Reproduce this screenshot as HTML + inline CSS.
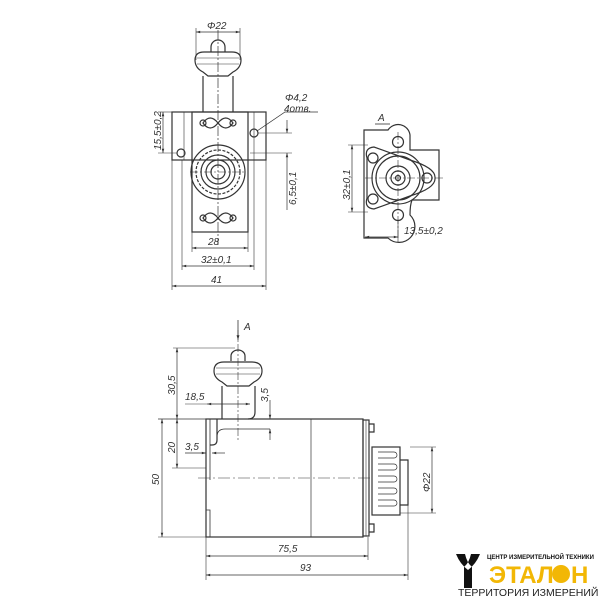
<!DOCTYPE html>
<html><head><meta charset="utf-8"><style>
html,body{margin:0;padding:0;background:#fff}
svg{display:block}
text{font-family:"Liberation Sans",sans-serif;font-style:italic;font-size:10px;fill:#333}
</style></head><body>
<svg width="600" height="600" viewBox="0 0 600 600" xmlns="http://www.w3.org/2000/svg">
<defs>
<marker id="a" viewBox="0 0 10 10" refX="10" refY="5" markerWidth="8" markerHeight="6" orient="auto-start-reverse"><path d="M0,2 L10,5 L0,8z" fill="#333"/></marker>
</defs>
<g fill="none" stroke="#333" stroke-width="1.2">
<!-- TOP VIEW -->
<line x1="218" y1="30" x2="218" y2="245" stroke-dasharray="10,2,2,2" stroke-width="0.7"/>
<line x1="196" y1="28" x2="196" y2="60" stroke-width="0.6"/><line x1="240" y1="28" x2="240" y2="60" stroke-width="0.6"/>
<line x1="196" y1="32" x2="240" y2="32" marker-start="url(#a)" marker-end="url(#a)" stroke-width="0.7"/>
<path d="M211,52 v-5 a7,7 0 0 1 14,0 v5"/>
<path d="M204,52 h28 q9,0 9,8 q0,8 -8,12 l-5,4 h-20 l-5,-4 q-8,-4 -8,-12 q0,-8 9,-8z"/>
<line x1="197" y1="58" x2="239" y2="58" stroke-width="0.6"/><line x1="197" y1="64" x2="239" y2="64" stroke-width="0.6"/>
<path d="M203,76 v36 M233,76 v36"/>
<rect x="172" y="112" width="94" height="48"/>
<rect x="192" y="112" width="56" height="120"/>
<line x1="184" y1="112" x2="184" y2="160" stroke-width="0.6"/><line x1="254" y1="112" x2="254" y2="160" stroke-width="0.6"/>
<circle cx="181" cy="153" r="4"/><circle cx="254" cy="133" r="4"/>
<circle cx="218" cy="172" r="27"/><circle cx="218" cy="172" r="22" stroke-dasharray="3,1.5"/>
<circle cx="218" cy="172" r="17"/><circle cx="218" cy="172" r="12"/><circle cx="218" cy="172" r="7"/>
<line x1="190" y1="172" x2="246" y2="172" stroke-dasharray="8,2,2,2" stroke-width="0.6"/>
<path d="M203,123 q7,-10 15,0 q8,10 15,0 q-7,-10 -15,0 q-8,10 -15,0z"/>
<circle cx="203" cy="123" r="3"/><circle cx="233" cy="123" r="3"/>
<path d="M203,218 q7,-10 15,0 q8,10 15,0 q-7,-10 -15,0 q-8,10 -15,0z"/>
<circle cx="203" cy="218" r="3"/><circle cx="233" cy="218" r="3"/>
<line x1="192" y1="232" x2="192" y2="252" stroke-width="0.6"/><line x1="248" y1="232" x2="248" y2="252" stroke-width="0.6"/>
<line x1="192" y1="248" x2="248" y2="248" marker-start="url(#a)" marker-end="url(#a)" stroke-width="0.7"/>
<line x1="182" y1="160" x2="182" y2="270" stroke-width="0.6"/><line x1="254" y1="160" x2="254" y2="270" stroke-width="0.6"/>
<line x1="182" y1="266" x2="254" y2="266" marker-start="url(#a)" marker-end="url(#a)" stroke-width="0.7"/>
<line x1="172" y1="160" x2="172" y2="290" stroke-width="0.6"/><line x1="266" y1="160" x2="266" y2="290" stroke-width="0.6"/>
<line x1="172" y1="286" x2="266" y2="286" marker-start="url(#a)" marker-end="url(#a)" stroke-width="0.7"/>
<line x1="158" y1="112" x2="172" y2="112" stroke-width="0.6"/><line x1="158" y1="153" x2="177" y2="153" stroke-width="0.6"/>
<line x1="163" y1="112" x2="163" y2="153" marker-start="url(#a)" marker-end="url(#a)" stroke-width="0.7"/>
<line x1="258" y1="133" x2="292" y2="133" stroke-width="0.6"/><line x1="250" y1="153" x2="292" y2="153" stroke-width="0.6"/>
<line x1="287" y1="120" x2="287" y2="133" marker-end="url(#a)" stroke-width="0.7"/>
<line x1="287" y1="210" x2="287" y2="153" marker-end="url(#a)" stroke-width="0.7"/>
<path d="M257,131 L285,112 H318" stroke-width="0.7"/>
<!-- RIGHT VIEW -->
<line x1="375" y1="124" x2="390" y2="124" stroke-width="0.8"/>
<path d="M364,130 H388 A12,12 0 0 1 410,135 V150 H439 V200 H412 Q410,205 410,215 A12,12 0 0 1 388,238 H364 Z"/>
<path d="M367,158 Q364,148 374,147 L410,160 Q436,168 435,178 Q436,188 410,196 L374,209 Q364,208 367,198 Z"/>
<circle cx="398" cy="142" r="5.5"/><circle cx="398" cy="215" r="5.5"/>
<circle cx="373" cy="158" r="5"/><circle cx="373" cy="199" r="5"/><circle cx="427" cy="178" r="5"/>
<circle cx="398" cy="178" r="26"/><circle cx="398" cy="178" r="22"/><circle cx="398" cy="178" r="12"/><circle cx="398" cy="178" r="7"/><circle cx="398" cy="178" r="2.5"/>
<line x1="365" y1="178" x2="445" y2="178" stroke-dasharray="8,2,2,2" stroke-width="0.6"/>
<line x1="398" y1="132" x2="398" y2="240" stroke-dasharray="8,2,2,2" stroke-width="0.6"/>
<line x1="348" y1="145" x2="368" y2="145" stroke-width="0.6"/><line x1="348" y1="212" x2="368" y2="212" stroke-width="0.6"/>
<line x1="352" y1="145" x2="352" y2="212" marker-start="url(#a)" marker-end="url(#a)" stroke-width="0.7"/>
<line x1="398" y1="220" x2="398" y2="242" stroke-width="0.6"/>
<line x1="365" y1="237" x2="398" y2="237" marker-start="url(#a)" marker-end="url(#a)" stroke-width="0.7"/>
<!-- FRONT VIEW -->
<line x1="238" y1="320" x2="238" y2="340" marker-end="url(#a)" stroke-width="0.8"/>
<path d="M231,361 v-5 a7,6 0 0 1 14,0 v5"/>
<path d="M224,362 h28 q10,0 10,9 q0,7 -8,11 l-5,4 h-22 l-5,-4 q-8,-4 -8,-11 q0,-9 10,-9z"/>
<line x1="216" y1="368" x2="260" y2="368" stroke-width="0.6"/><line x1="216" y1="374" x2="260" y2="374" stroke-width="0.6"/>
<path d="M222,386 V419 M255,386 V412 q0,7 -7,7"/>
<line x1="238" y1="330" x2="238" y2="440" stroke-dasharray="8,2,2,2" stroke-width="0.6"/>
<rect x="206" y="419" width="157" height="118"/>
<line x1="311" y1="419" x2="311" y2="537" stroke-width="0.7"/>
<path d="M206,419 H158 M210,419 V480 M206,510 H210 V537" stroke-width="0.8"/>
<path d="M217,419 V440 q0,5 -5,5 H210"/>
<path d="M217,437 q0,-8 8,-8 H270" stroke-width="0.8"/>
<path d="M206,468 H172" stroke-width="0.6"/>
<line x1="198" y1="478" x2="370" y2="478" stroke-dasharray="12,3,2,3" stroke-width="0.6"/>
<rect x="363" y="420" width="6" height="116"/><line x1="366" y1="420" x2="366" y2="536" stroke-width="0.6"/>
<path d="M369,424 h5 v8 h-5 M369,524 h5 v8 h-5"/>
<rect x="372" y="447" width="28" height="68"/>
<path d="M400,460 h8 v45 h-8"/>
<path d="M378,452 h16 a3,3 0 0 1 0,6 h-16 M378,464 h16 a3,3 0 0 1 0,6 h-16 M378,476 h16 a3,3 0 0 1 0,6 h-16 M378,488 h16 a3,3 0 0 1 0,6 h-16 M378,500 h16 a3,3 0 0 1 0,6 h-16" stroke-width="0.7"/>
<line x1="410" y1="447" x2="436" y2="447" stroke-width="0.6"/><line x1="400" y1="513" x2="436" y2="513" stroke-width="0.6"/>
<line x1="432" y1="447" x2="432" y2="513" marker-start="url(#a)" marker-end="url(#a)" stroke-width="0.7"/>
<line x1="173" y1="348" x2="235" y2="348" stroke-width="0.6"/>
<line x1="177" y1="348" x2="177" y2="419" marker-start="url(#a)" marker-end="url(#a)" stroke-width="0.7"/>
<line x1="177" y1="419" x2="177" y2="468" marker-start="url(#a)" marker-end="url(#a)" stroke-width="0.7"/>
<line x1="158" y1="537" x2="206" y2="537" stroke-width="0.6"/>
<line x1="162" y1="419" x2="162" y2="537" marker-start="url(#a)" marker-end="url(#a)" stroke-width="0.7"/>
<line x1="185" y1="404" x2="207" y2="404" stroke-width="0.6"/>
<line x1="207" y1="404" x2="250" y2="404" marker-start="url(#a)" marker-end="url(#a)" stroke-width="0.7"/>
<line x1="270" y1="400" x2="270" y2="419" marker-end="url(#a)" stroke-width="0.7"/>
<line x1="270" y1="440" x2="270" y2="429" marker-end="url(#a)" stroke-width="0.7"/>
<line x1="185" y1="453" x2="206" y2="453" marker-end="url(#a)" stroke-width="0.7"/>
<line x1="225" y1="453" x2="212" y2="453" marker-end="url(#a)" stroke-width="0.7"/>
<line x1="206" y1="537" x2="206" y2="580" stroke-width="0.6"/><line x1="368" y1="537" x2="368" y2="560" stroke-width="0.6"/><line x1="408" y1="505" x2="408" y2="580" stroke-width="0.6"/>
<line x1="206" y1="556" x2="368" y2="556" marker-start="url(#a)" marker-end="url(#a)" stroke-width="0.7"/>
<line x1="206" y1="575" x2="408" y2="575" marker-start="url(#a)" marker-end="url(#a)" stroke-width="0.7"/>
</g>
<g>
<text x="207" y="29">Φ22</text>
<text x="285" y="101">Φ4,2</text>
<text x="284" y="112">4отв.</text>
<text x="208" y="245">28</text>
<text x="201" y="263">32±0,1</text>
<text x="211" y="283">41</text>
<text transform="translate(161,150) rotate(-90)">15,5±0,2</text>
<text transform="translate(296,205) rotate(-90)">6,5±0,1</text>
<text x="378" y="121">А</text>
<text transform="translate(350,200) rotate(-90)">32±0,1</text>
<text x="404" y="234">13,5±0,2</text>
<text x="244" y="330">А</text>
<text transform="translate(175,395) rotate(-90)">30,5</text>
<text x="185" y="400">18,5</text>
<text transform="translate(268,402) rotate(-90)">3,5</text>
<text transform="translate(175,453) rotate(-90)">20</text>
<text x="185" y="450">3,5</text>
<text transform="translate(159,485) rotate(-90)">50</text>
<text transform="translate(430,492) rotate(-90)">Φ22</text>
<text x="278" y="552">75,5</text>
<text x="300" y="571">93</text>
</g>
<!-- LOGO -->
<g>
<path d="M456,554 h9 q2,9 7,13 v21 h-4 v-18 q-8,-6 -12,-16z M480,554 h-9 q-2,9 -7,13 v21 h4 v-18 q8,-6 12,-16z" fill="#111"/>
<text x="487" y="559" style="font-style:normal;font-weight:bold;font-size:6px;fill:#111">ЦЕНТР ИЗМЕРИТЕЛЬНОЙ ТЕХНИКИ</text>
<text x="489" y="583" style="font-style:normal;font-weight:bold;font-size:24px;fill:#f2b705">ЭТАЛ</text>
<circle cx="561" cy="574" r="9" fill="#f2b705"/>
<text x="571" y="583" style="font-style:normal;font-weight:bold;font-size:24px;fill:#f2b705">Н</text>
<text x="458" y="596" style="font-style:normal;font-size:10.5px;fill:#222">ТЕРРИТОРИЯ ИЗМЕРЕНИЙ</text>
</g>
</svg>
</body></html>
